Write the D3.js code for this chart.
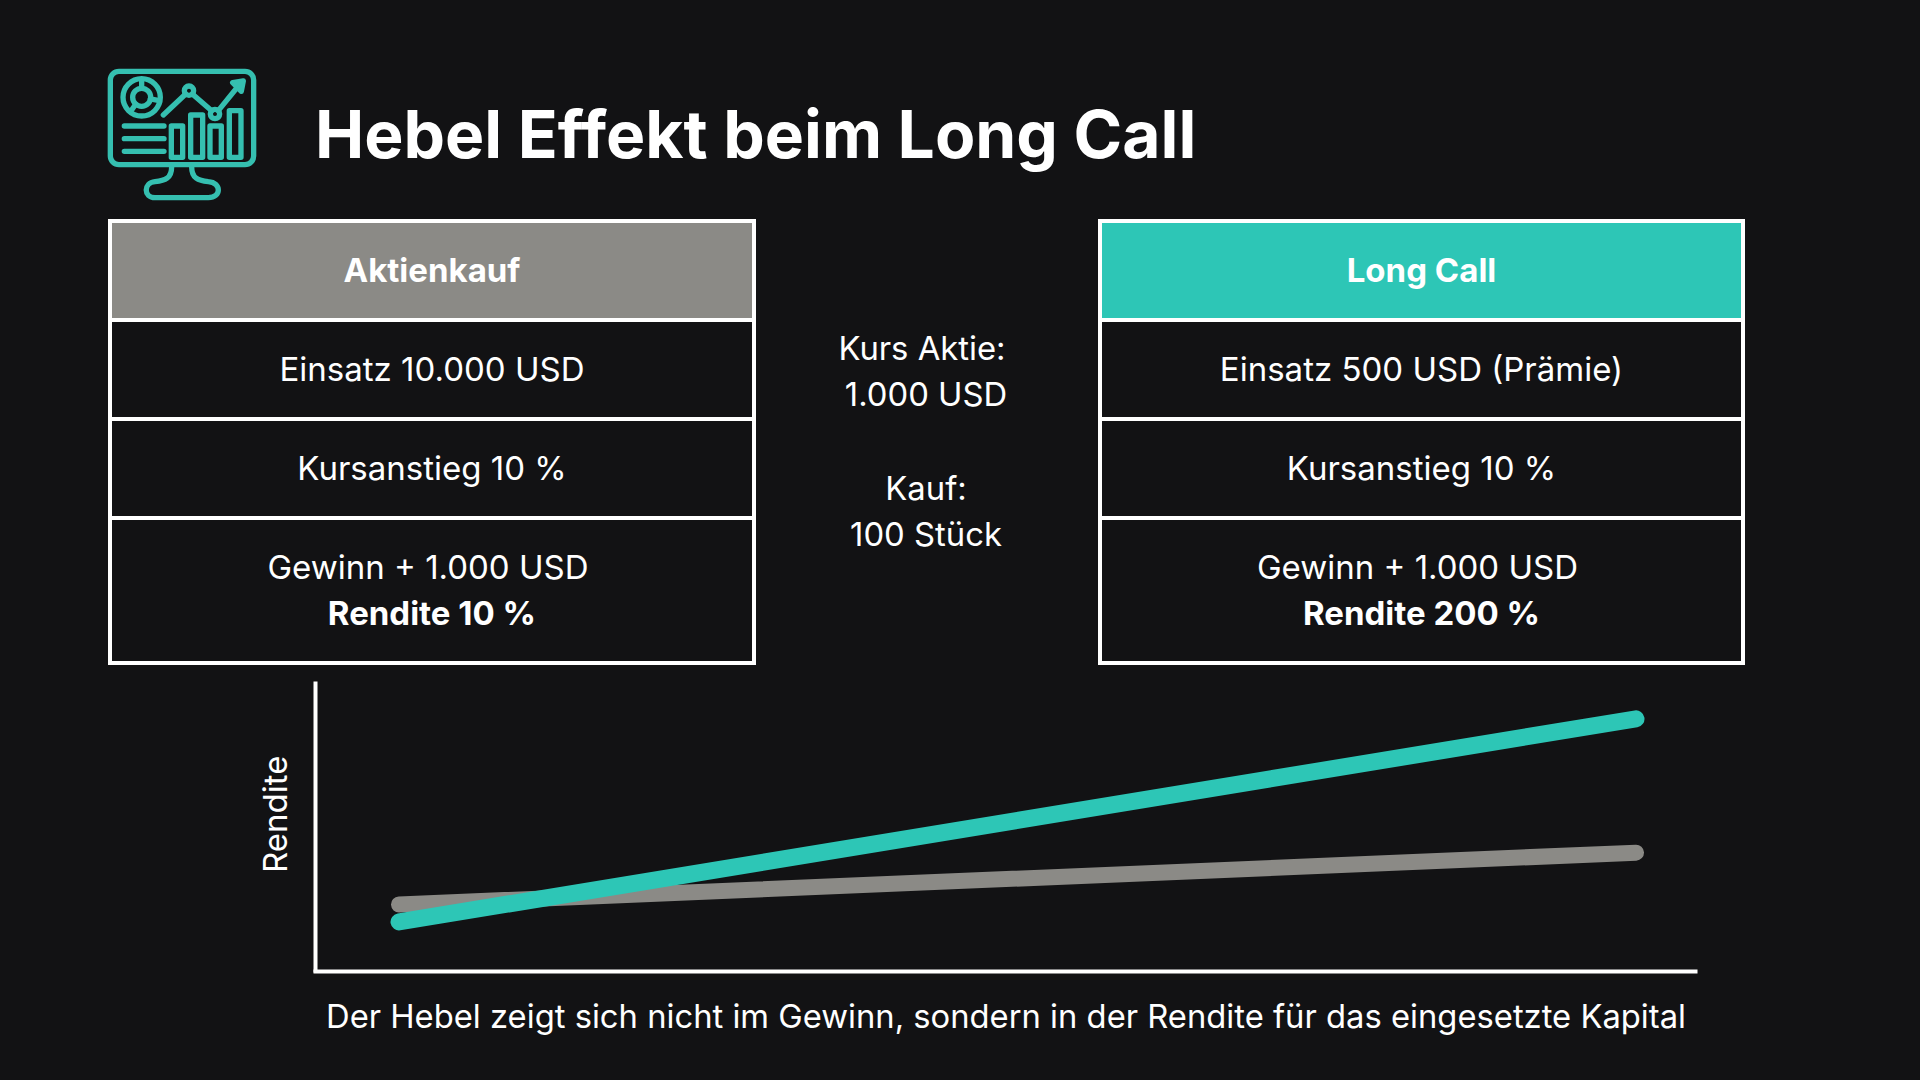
<!DOCTYPE html>
<html>
<head>
<meta charset="utf-8">
<script src="https://cdn.jsdelivr.net/npm/d3@7"></script>
<style>
  html, body { margin: 0; padding: 0; background: #121214; }
  svg { display: block; }
  text { font-family: Inter, sans-serif; fill: #fff; }
</style>
</head>
<body>
<svg id="chart" width="1920" height="1080"></svg>
<script>
(function() {

  // chart values (no scale printed, 0-100 of the axis height)
  var progress = [0, 1];
  var aktienRendite = [23.2, 41];
  var callRendite = [17.2, 87];

  var titleText = "Hebel Effekt beim Long Call";
  var yLabel = "Rendite";
  var xLabel = "Der Hebel zeigt sich nicht im Gewinn, sondern in der Rendite für das eingesetzte Kapital";

  var aktieHeader = "Aktienkauf";
  var aktieRows = ["Einsatz 10.000 USD", "Kursanstieg 10 %", "Gewinn + 1.000 USD"];
  var aktieResult = "Rendite 10 %";

  var callHeader = "Long Call";
  var callRows = ["Einsatz 500 USD (Prämie)", "Kursanstieg 10 %", "Gewinn + 1.000 USD"];
  var callResult = "Rendite 200 %";

  var middleLines = ["Kurs Aktie:", "1.000 USD", "Kauf:", "100 Stück"];

  var teal = '#2dc6b6',
      gray = '#8b8a86',
      white = '#ffffff',
      bg = '#121214';

  var svg = d3.select('#chart');

  svg.append('rect').attr('width', 1920).attr('height', 1080).attr('fill', bg);

  drawIcon();

  svg.append('text')
    .attr('x', 315)
    .attr('y', 158)
    .attr('font-size', 65.9)
    .attr('font-weight', 700)
    .text(titleText);

  drawTable(108, 648, aktieHeader, gray, aktieRows, aktieResult);
  drawTable(1098, 647, callHeader, teal, callRows, callResult);

  // middle column between the tables
  var middleX = [922, 926, 926, 926];
  var middleY = [360, 406, 500, 546];
  svg.selectAll('.middle')
    .data(middleLines)
    .enter().append('text')
    .attr('class', 'middle')
    .attr('x', function(d, i) { return middleX[i]; })
    .attr('y', function(d, i) { return middleY[i]; })
    .attr('text-anchor', 'middle')
    .attr('font-size', 32.8)
    .text(function(d) { return d; });

  // table with header, two plain rows and the result row
  function drawTable(left, width, header, headerColor, rows, result) {
    var lines = [221, 320, 419, 518, 663];
    var center = left + width / 2;
    var g = svg.append('g');

    g.append('rect')
      .attr('x', left + 2).attr('y', lines[0])
      .attr('width', width - 4).attr('height', lines[1] - lines[0])
      .attr('fill', headerColor);

    g.append('rect')
      .attr('x', left + 2).attr('y', lines[0])
      .attr('width', width - 4).attr('height', lines[4] - lines[0])
      .attr('fill', 'none')
      .attr('stroke', white)
      .attr('stroke-width', 4);

    g.selectAll('.rule')
      .data(lines.slice(1, 4))
      .enter().append('line')
      .attr('class', 'rule')
      .attr('x1', left).attr('x2', left + width)
      .attr('y1', function(d) { return d; })
      .attr('y2', function(d) { return d; })
      .attr('stroke', white)
      .attr('stroke-width', 4);

    g.append('text')
      .attr('x', center).attr('y', 282)
      .attr('text-anchor', 'middle')
      .attr('font-size', 33)
      .attr('font-weight', 700)
      .text(header);

    var rowY = [381, 480, 579];
    g.selectAll('.row')
      .data(rows)
      .enter().append('text')
      .attr('class', 'row')
      .attr('x', function(d, i) { return i == 2 ? center - 4 : center; })
      .attr('y', function(d, i) { return rowY[i]; })
      .attr('text-anchor', 'middle')
      .attr('font-size', 33)
      .text(function(d) { return d; });

    g.append('text')
      .attr('x', center).attr('y', 625)
      .attr('text-anchor', 'middle')
      .attr('font-size', 33)
      .attr('font-weight', 700)
      .text(result);
  }

  // line chart
  var x = d3.scaleLinear().domain([0, 1]).range([399, 1636]);
  var y = d3.scaleLinear().domain([0, 100]).range([972, 681]);

  svg.append('g')
    .attr('transform', 'translate(315,0)')
    .call(d3.axisLeft(y).tickValues([]).tickSize(0));
  svg.append('g')
    .attr('transform', 'translate(0,971)')
    .call(d3.axisBottom(d3.scaleLinear().domain([0, 1]).range([313, 1697])).tickValues([]).tickSize(0));

  svg.selectAll('.domain')
    .attr('stroke', white)
    .attr('stroke-width', 4);

  var line = d3.line()
    .x(function(d, i) { return x(progress[i]); })
    .y(function(d) { return y(d); });

  svg.append('path')
    .attr('d', line(aktienRendite))
    .attr('fill', 'none')
    .attr('stroke', gray)
    .attr('stroke-width', 16)
    .attr('stroke-linecap', 'round');

  svg.append('path')
    .attr('d', line(callRendite))
    .attr('fill', 'none')
    .attr('stroke', teal)
    .attr('stroke-width', 17)
    .attr('stroke-linecap', 'round');

  svg.append('text')
    .attr('transform', 'translate(287,873) rotate(-90)')
    .attr('font-size', 33)
    .text(yLabel);

  svg.append('text')
    .attr('x', 1006)
    .attr('y', 1028)
    .attr('text-anchor', 'middle')
    .attr('font-size', 32.75)
    .text(xLabel);

  // monitor icon top left
  function drawIcon() {
    var color = '#35bfb0';
    var g = svg.append('g')
      .attr('transform', 'translate(90,50) scale(0.3333)')
      .attr('fill', 'none')
      .attr('stroke', color)
      .attr('stroke-width', 16)
      .attr('stroke-linecap', 'round')
      .attr('stroke-linejoin', 'round');

    g.append('rect').attr('x', 61).attr('y', 64).attr('width', 430).attr('height', 280).attr('rx', 26);
    g.append('path').attr('d', 'M245,350 C245,385 225,392 195,395 C160,398 160,443 195,443 L355,443 C395,443 395,398 355,395 C325,392 305,385 305,350');

    // donut
    g.append('circle').attr('cx', 155).attr('cy', 142).attr('r', 56);
    g.append('circle').attr('cx', 155).attr('cy', 142).attr('r', 27);
    g.append('path').attr('d', 'M155,88 L155,115 M125,180 L137,163 M208,152 L181,147');

    // trend
    g.append('path').attr('d', 'M220,195 L287,132 M307,132 L365,182 M385,182 L450,102');
    g.append('circle').attr('cx', 297).attr('cy', 122).attr('r', 14);
    g.append('circle').attr('cx', 375).attr('cy', 192).attr('r', 14);
    g.append('path').attr('d', 'M428,98 L460,93 L454,124 Z').attr('fill', color);

    // bars
    g.append('rect').attr('x', 244).attr('y', 228).attr('width', 34).attr('height', 94);
    g.append('rect').attr('x', 302).attr('y', 195).attr('width', 36).attr('height', 127);
    g.append('rect').attr('x', 360).attr('y', 228).attr('width', 34).attr('height', 94);
    g.append('rect').attr('x', 418).attr('y', 182).attr('width', 35).attr('height', 140);

    // text lines
    g.append('path').attr('d', 'M103,228 L222,228 M103,266 L222,266 M103,304 L222,304');
  }

})();
</script>
</body>
</html>
